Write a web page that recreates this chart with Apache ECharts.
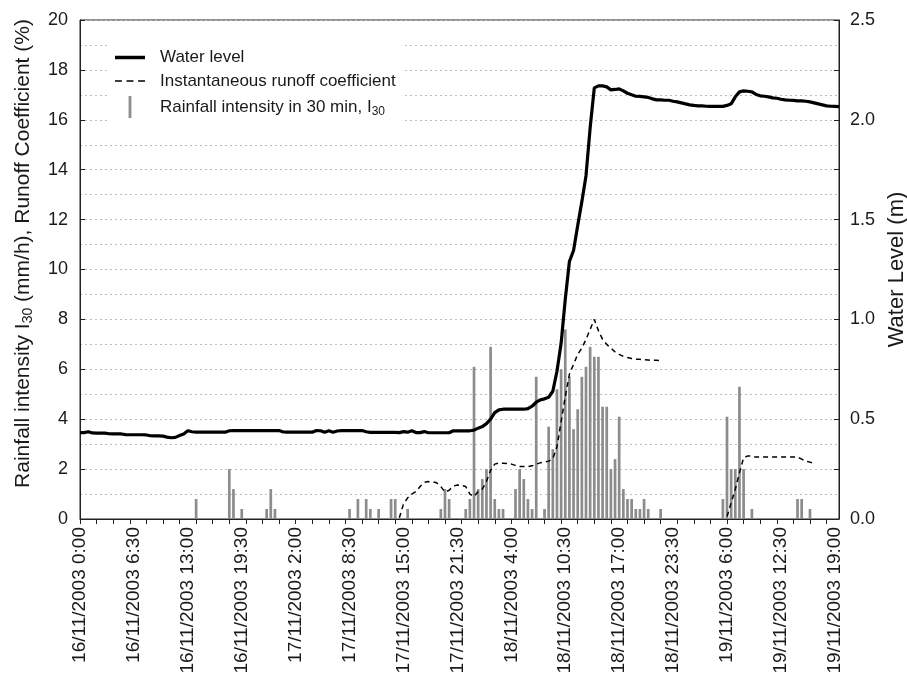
<!DOCTYPE html>
<html>
<head>
<meta charset="utf-8">
<script src="https://cdn.jsdelivr.net/npm/echarts@6/dist/echarts.min.js"></script>
<style>
html,body{margin:0;padding:0;background:#fff;}
#chart{width:907px;height:680px;}
</style>
</head>
<body>
<div id="chart"></div>
<script>
// Time categories: every 30 min from 16/11/2003 0:00 to 19/11/2003 19:30
const startTime = Date.UTC(2003, 10, 16, 0, 0);
const stepMinutes = 30;
const categoryCount = 184;
const categories = [];
for (let i = 0; i < categoryCount; i++) {
  const d = new Date(startTime + i * stepMinutes * 60000);
  const mm = d.getUTCMinutes() < 10 ? '0' + d.getUTCMinutes() : '' + d.getUTCMinutes();
  categories.push(d.getUTCDate() + '/' + (d.getUTCMonth() + 1) + '/' + d.getUTCFullYear() + ' ' + d.getUTCHours() + ':' + mm);
}

// Rainfall intensity I30 (mm/h)
const rainfall = [
  0,0,0,0,0,0,0,0,0,0,0,0,0,0,0,0,0,0,0,0,
  0,0,0,0,0,0,0,0,0.8,0,0,0,0,0,0,0,2.0,1.2,0,0.4,
  0,0,0,0,0,0.4,1.2,0.4,0,0,0,0,0,0,0,0,0,0,0,0,
  0,0,0,0,0,0.4,0,0.8,0,0.8,0.4,0,0.4,0,0,0.8,0.8,0,0,0.4,
  0,0,0,0,0,0,0,0.4,1.2,0.8,0,0,0,0.4,0.8,6.1,1.2,1.6,2.0,6.9,
  0.8,0.4,0.4,0,0,1.2,2.0,1.6,0.8,0.4,5.7,0,0.4,3.7,2.8,5.2,6.0,7.6,5.7,3.6,
  4.4,5.7,6.1,6.9,6.5,6.5,4.5,4.5,2.0,2.4,4.1,1.2,0.8,0.8,0.4,0.4,0.8,0.4,0,0,
  0.4,0,0,0,0,0,0,0,0,0,0,0,0,0,0,0.8,4.1,2.0,2.0,5.3,
  2.0,0,0.4,0,0,0,0,0,0,0,0,0,0,0.8,0.8,0,0.4,0,0,0,
  0,0,0,0
];

// Water level (m)
const waterLevel = [
  0.433,0.433,0.437,0.431,0.430,0.430,0.430,0.427,0.426,0.426,0.426,0.423,0.422,0.422,0.422,0.422,0.421,0.417,0.416,0.416,
  0.415,0.410,0.407,0.409,0.418,0.426,0.442,0.437,0.435,0.435,0.435,0.435,0.435,0.435,0.435,0.435,0.442,0.443,0.443,0.443,
  0.443,0.443,0.443,0.443,0.443,0.443,0.443,0.443,0.443,0.436,0.435,0.435,0.435,0.435,0.435,0.435,0.435,0.443,0.442,0.435,
  0.442,0.435,0.441,0.443,0.443,0.443,0.443,0.443,0.443,0.437,0.434,0.434,0.434,0.434,0.434,0.434,0.434,0.433,0.438,0.435,
  0.442,0.433,0.433,0.438,0.432,0.432,0.432,0.432,0.432,0.432,0.442,0.442,0.442,0.442,0.442,0.445,0.455,0.463,0.478,0.500,
  0.533,0.547,0.550,0.550,0.550,0.550,0.550,0.550,0.553,0.565,0.585,0.597,0.602,0.610,0.640,0.740,0.880,1.100,1.290,1.345,
  1.470,1.590,1.720,1.960,2.160,2.170,2.170,2.165,2.150,2.152,2.155,2.145,2.133,2.125,2.118,2.117,2.115,2.112,2.105,2.100,
  2.100,2.098,2.098,2.093,2.090,2.085,2.080,2.075,2.072,2.070,2.070,2.068,2.067,2.067,2.067,2.067,2.072,2.080,2.115,2.140,
  2.145,2.143,2.140,2.127,2.120,2.118,2.115,2.110,2.108,2.103,2.100,2.098,2.097,2.095,2.095,2.093,2.090,2.085,2.080,2.075,
  2.070,2.068,2.067,2.066
];

// Instantaneous runoff coefficient (%)
const n = null;
const runoff = [
  n,n,n,n,n,n,n,n,n,n,n,n,n,n,n,n,n,n,n,n,
  n,n,n,n,n,n,n,n,n,n,n,n,n,n,n,n,n,n,n,n,
  n,n,n,n,n,n,n,n,n,n,n,n,n,n,n,n,n,n,n,n,
  n,n,n,n,n,n,n,n,n,n,n,n,n,n,n,n,n,0.05,0.6,0.85,
  1.0,1.1,1.3,1.47,1.5,1.49,1.45,1.3,1.08,1.15,1.32,1.36,1.35,1.3,1.0,0.9,1.1,1.2,1.5,1.95,
  2.2,2.24,2.23,2.22,2.2,2.15,2.1,2.1,2.1,2.13,2.2,2.25,2.28,2.32,2.42,2.9,3.9,4.9,5.8,6.2,
  6.6,6.85,7.2,7.6,8.0,7.55,7.2,7.0,6.85,6.7,6.6,6.52,6.47,6.43,6.4,6.4,6.38,6.37,6.36,6.36,
  6.35,n,n,n,n,n,n,n,n,n,n,n,n,n,n,n,0.1,0.65,1.2,1.85,
  2.45,2.53,2.52,2.48,2.48,2.48,2.48,2.48,2.48,2.48,2.48,2.48,2.48,2.48,2.4,2.32,2.28,2.22,n,n,
  n,n,n,n
];

const leftTicks = { min: 0, max: 20, interval: 2 };
const rightTicks = { min: 0, max: 2.5, interval: 0.5 };

const NAME_WL = 'Water level';
const NAME_RC = 'Instantaneous runoff coefficient';
const NAME_RAIN = 'Rainfall intensity in 30 min, I30';

const FONT = '"Liberation Sans", Arial, Helvetica, sans-serif';
const INK = '#1a1a1a';
const GRID_LINE = { color: '#bdbdbd', width: 1, type: [2, 3] };

const chart = echarts.init(document.getElementById('chart'), null, { renderer: 'canvas' });
chart.setOption({
  animation: false,
  backgroundColor: '#ffffff',
  textStyle: { fontFamily: FONT },
  grid: {
    left: 80, right: 68, top: 20, bottom: 161,
    containLabel: false, outerBoundsMode: 'none',
    show: true, borderColor: '#222', borderWidth: 1, backgroundColor: 'transparent'
  },
  legend: {
    orient: 'vertical',
    left: 107,
    top: 43,
    padding: [6, 6, 6, 8],
    itemGap: 6.5,
    itemWidth: 30,
    itemHeight: 22,
    backgroundColor: '#ffffff',
    selectedMode: false,
    textStyle: {
      fontSize: 17, color: INK, fontFamily: FONT, padding: [0, 0, 0, 10],
      rich: { sub: { fontSize: 12, fontFamily: FONT, color: INK, padding: [9, 0, 0, 0] } }
    },
    formatter: function (name) {
      return name === NAME_RAIN ? 'Rainfall intensity in 30 min, I{sub|30}' : name;
    },
    data: [
      { name: NAME_WL, icon: 'path://M0,0h30v3.5h-30z', itemStyle: { color: '#000', borderWidth: 0 } },
      { name: NAME_RC, icon: 'path://M0,0h6v1.5h-6zM10,0h6v1.5h-6zM20,0h6v1.5h-6z', itemStyle: { color: '#000', borderWidth: 0 } },
      { name: NAME_RAIN, icon: 'path://M0,0h3v23h-3z', itemStyle: { color: '#8f8f8f', borderWidth: 0 } }
    ]
  },
  xAxis: {
    type: 'category',
    data: categories,
    boundaryGap: false,
    axisLine: { show: true, lineStyle: { color: '#222', width: 1 } },
    axisTick: { show: true, interval: 3, length: 5, lineStyle: { color: '#222' } },
    axisLabel: { interval: 12, rotate: 90, fontSize: 19, color: INK, margin: 8, fontFamily: FONT },
    splitLine: { show: false }
  },
  yAxis: [
    {
      type: 'value',
      position: 'left',
      min: leftTicks.min, max: leftTicks.max, interval: leftTicks.interval,
      name: 'Rainfall intensity I{sub|30} (mm/h), Runoff Coefficient (%)',
      nameLocation: 'middle',
      nameGap: 45,
      nameRotate: 90,
      nameTextStyle: {
        fontSize: 21, color: INK, fontFamily: FONT, padding: [0, 0, 0, 32],
        rich: { sub: { fontSize: 14, fontFamily: FONT, color: INK, padding: [10, 0, 0, 0] } }
      },
      axisLine: { show: true, lineStyle: { color: '#222', width: 1 } },
      axisTick: { show: true, inside: true, length: 5, lineStyle: { color: '#222' } },
      axisLabel: { fontSize: 18, color: INK, margin: 12, fontFamily: FONT },
      splitLine: { show: true, lineStyle: GRID_LINE },
      minorTick: { show: false, splitNumber: 2 },
      minorSplitLine: { show: true, lineStyle: GRID_LINE }
    },
    {
      type: 'value',
      position: 'right',
      min: rightTicks.min, max: rightTicks.max, interval: rightTicks.interval,
      name: 'Water Level (m)',
      nameLocation: 'middle',
      nameGap: 45,
      nameRotate: 90,
      nameTextStyle: { fontSize: 22, color: INK, fontFamily: FONT },
      axisLine: { show: true, lineStyle: { color: '#222', width: 1 } },
      axisTick: { show: true, inside: true, length: 5, lineStyle: { color: '#222' } },
      minorTick: { show: true, splitNumber: 2, length: 5, lineStyle: { color: '#222' } },
      axisLabel: { fontSize: 18, color: INK, margin: 11, fontFamily: FONT, formatter: function (v) { return v.toFixed(1); } },
      splitLine: { show: false }
    }
  ],
  series: [
    {
      name: NAME_RAIN,
      type: 'bar',
      yAxisIndex: 0,
      data: rainfall,
      barWidth: 2.7,
      itemStyle: { color: '#8c8c8c' },
      z: 2
    },
    {
      name: NAME_RC,
      type: 'line',
      yAxisIndex: 0,
      data: runoff,
      symbol: 'none',
      connectNulls: false,
      itemStyle: { color: '#000' },
      lineStyle: { color: '#000', width: 1.5, type: [5, 4] },
      z: 3
    },
    {
      name: NAME_WL,
      type: 'line',
      yAxisIndex: 1,
      data: waterLevel,
      symbol: 'none',
      itemStyle: { color: '#000' },
      lineStyle: { color: '#000', width: 3.2 },
      z: 4
    }
  ]
});
</script>
</body>
</html>
